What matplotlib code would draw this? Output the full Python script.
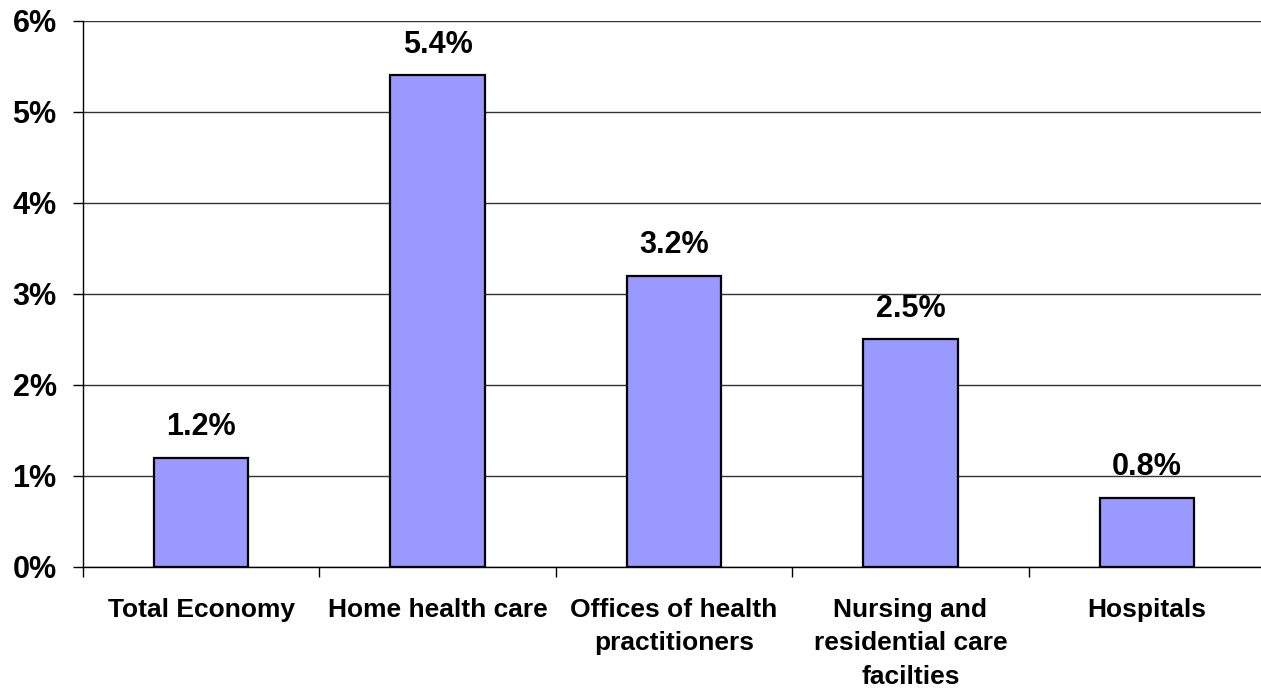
import numpy as np
import matplotlib.pyplot as plt

# data
categories = ["Total Economy", "Home health care", "Offices of health\npractitioners",
              "Nursing and\nresidential care\nfacilties", "Hospitals"]
values = [1.2, 5.4, 3.2, 2.5, 0.76]
value_labels = ["1.2%", "5.4%", "3.2%", "2.5%", "0.8%"]
yticks = [0, 1, 2, 3, 4, 5, 6]
ytick_labels = ["0%", "1%", "2%", "3%", "4%", "5%", "6%"]

plt.rcParams['font.family'] = ['Liberation Sans', 'DejaVu Sans']
plt.rcParams['font.weight'] = 'bold'

fig = plt.figure(figsize=(12.61, 6.90), dpi=100)
ax = fig.add_axes([83/1261, 123/690, 1182/1261, 546.5/690])

x = np.arange(len(categories))
ax.bar(x, values, width=0.4, color='#9999FF', edgecolor='black', linewidth=1.6, zorder=3)

for xi, v, lab in zip(x, values, value_labels):
    ax.annotate(lab, (xi, v), xytext=(0, 11), textcoords='offset points',
                ha='center', va='bottom', fontsize=22, fontweight='bold')

ax.set_xlim(-0.5, len(categories) - 0.5)
ax.set_ylim(0, 6)
ax.set_yticks(yticks)
ax.set_yticklabels(ytick_labels, fontsize=22, fontweight='bold')
ax.yaxis.grid(True, color='#333333', linewidth=1.0, zorder=0)
ax.set_axisbelow(True)

# category labels centred, ticks on the boundaries
ax.set_xticks(x)
ax.set_xticklabels(categories, fontsize=19, fontweight='bold', linespacing=1.52)
ax.tick_params(axis='x', which='major', length=0, pad=22)
ax.set_xticks(np.arange(-0.5, len(categories) + 0.5), minor=True)
ax.tick_params(axis='x', which='minor', length=7, width=1, direction='out')
ax.tick_params(axis='y', length=7, width=1, pad=12)

for s in ['top', 'right']:
    ax.spines[s].set_visible(False)
ax.spines['left'].set_linewidth(1.0)
ax.spines['bottom'].set_linewidth(1.0)

fig.savefig('out.png', dpi=100)
